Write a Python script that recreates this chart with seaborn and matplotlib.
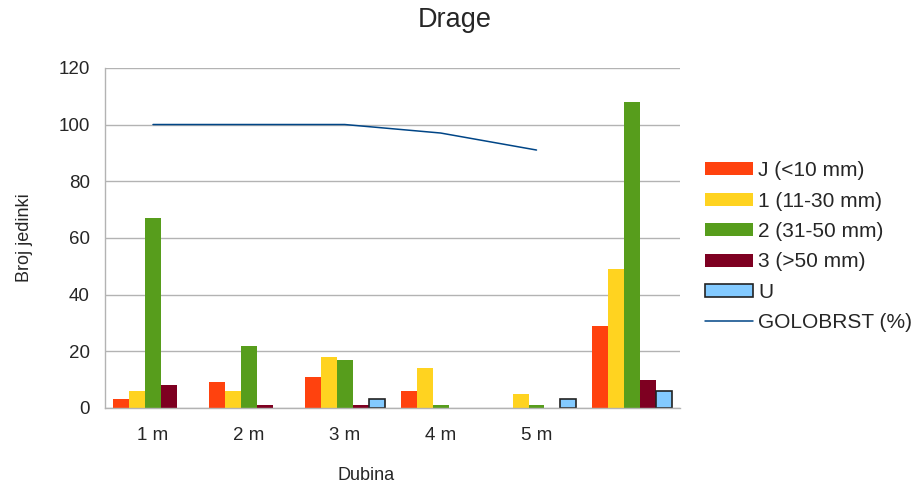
import numpy as np
import pandas as pd
import seaborn as sns
import matplotlib.pyplot as plt
from matplotlib.ticker import FixedLocator

# podaci
dubine = ['1 m', '2 m', '3 m', '4 m', '5 m', '']
klase = ['J (<10 mm)', '1 (11-30 mm)', '2 (31-50 mm)', '3 (>50 mm)', 'U']
j_vals = [3, 9, 11, 6, 0, 29]
k1_vals = [6, 6, 18, 14, 5, 49]
k2_vals = [67, 22, 17, 1, 1, 108]
k3_vals = [8, 1, 1, 0, 0, 10]
u_vals = [0, 0, 3, 0, 3, 6]
golobrst = [100, 100, 100, 97, 91]

boje = ['#ff420e', '#ffd320', '#579d1c', '#7e0021', '#83caff']

sns.set_style('white')
plt.rcParams['font.family'] = ['Liberation Sans', 'DejaVu Sans']

df = pd.DataFrame({'dubina': dubine * 5,
                   'klasa': np.repeat(klase, len(dubine)),
                   'broj': j_vals + k1_vals + k2_vals + k3_vals + u_vals})

fig = plt.figure(figsize=(9.19, 4.88), dpi=100)
ax = fig.add_axes([0.1143, 0.164, 0.626, 0.697])

sns.barplot(data=df, x='dubina', y='broj', hue='klasa', hue_order=klase,
            palette=boje, saturation=1, width=0.833, gap=0, ax=ax, legend=False,
            edgecolor='none', linewidth=0)
# U stupci imaju tamni rub, ali samo ako nisu nula
for patch in ax.containers[4]:
    if patch.get_height() > 0:
        patch.set_edgecolor('#222222')
        patch.set_linewidth(1.2)
for cont in ax.containers:
    for patch in cont:
        if patch.get_height() == 0:
            patch.set_visible(False)

sns.lineplot(x=np.arange(len(golobrst)), y=golobrst, color='#004586', linewidth=1.1, ax=ax)

ax.set_xlim(-0.5, 5.5)
ax.set_ylim(0, 120)
ax.set_yticks(range(0, 121, 20))
ax.yaxis.grid(True, color='#b3b3b3', linewidth=1)
ax.set_axisbelow(True)
ax.set_xticks(range(len(dubine)))
ax.set_xticklabels(dubine)
ax.xaxis.set_minor_locator(FixedLocator(np.arange(-0.5, 6, 1)))
ax.tick_params(axis='x', which='major', length=0, labelsize=13.5, pad=14)
ax.tick_params(axis='x', which='minor', length=8, color='#b3b3b3', width=1)
ax.tick_params(axis='y', length=6, color='#b3b3b3', labelsize=13.5, pad=5)
for s in ['top', 'right']:
    ax.spines[s].set_visible(False)
for s in ['left', 'bottom']:
    ax.spines[s].set_color('#b3b3b3')
    ax.spines[s].set_linewidth(1)

ax.set_xlabel('Dubina', fontsize=13)
ax.xaxis.set_label_coords(0.454, -0.175)
ax.set_ylabel('Broj jedinki', fontsize=13, labelpad=18)
fig.suptitle('Drage', x=0.495, y=0.958, va='center', fontsize=19.5)

handles = [plt.Rectangle((0, 0), 1, 1, facecolor=c,
                         edgecolor='#222222' if k == 'U' else 'none', linewidth=1.2)
           for c, k in zip(boje, klase)]
handles.append(plt.Line2D([0], [0], color='#004586', linewidth=1.1))
ax.legend(handles, klase + ['GOLOBRST (%)'], loc='center left',
          bbox_to_anchor=(1.043, 0.474), frameon=False, fontsize=15,
          borderaxespad=0, borderpad=0,
          handlelength=2.3, handleheight=0.58, handletextpad=0.25, labelspacing=0.55)

fig.savefig('out.png', dpi=100)
